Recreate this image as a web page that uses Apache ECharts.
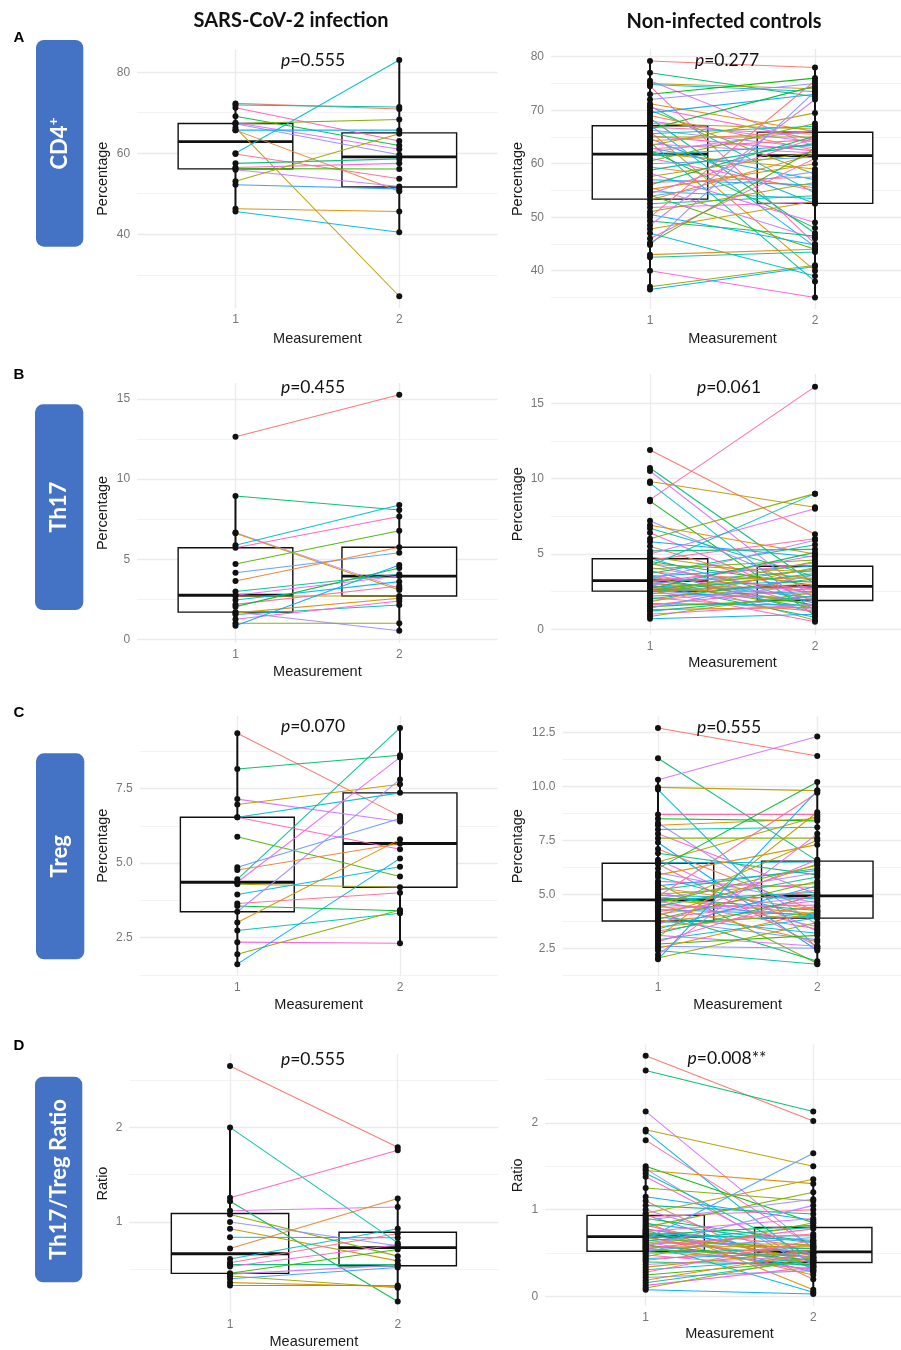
<!DOCTYPE html>
<html>
<head>
<meta charset="utf-8">
<title>CD4, Th17, Treg – paired measurements</title>
<script src="https://cdn.jsdelivr.net/npm/echarts@6.0.0/dist/echarts.min.js"></script>
<style>
  html, body { margin: 0; padding: 0; background: #fff; }
  #chart { width: 901px; height: 1350px; }
</style>
</head>
<body>
<div id="chart"></div>
<script>
// values; index k of a "First" array and its "Second" array is one subject
const measurements = [1, 2];
const measurementLabels = ['1', '2'];
const groupTitles = ['SARS-CoV-2 infection', 'Non-infected controls'];
const panelLetters = ['A', 'B', 'C', 'D'];
const markerLabels = ['CD4+', 'Th17', 'Treg', 'Th17/Treg Ratio'];
const yTitles = ['Percentage', 'Percentage', 'Percentage', 'Ratio'];
const pInfected = ['0.555', '0.455', '0.070', '0.555'];
const pControls = ['0.277', '0.061', '0.555', '0.008**'];

// A  CD4+ (%)
const cd4InfFirst  = [72.3, 71.9, 71.2, 69.1, 67.5, 67.3, 67.3, 66.3, 65.7, 65.7, 60.0, 59.8, 57.5, 56.5, 56.2, 55.9, 53.1, 52.2, 46.3, 45.6];
const cd4InfSecond = [70.9, 71.4, 63.0, 61.9, 61.0, 68.3, 59.6, 24.7, 65.7, 50.6, 83.0, 53.7, 58.6, 57.5, 56.1, 51.8, 64.8, 51.2, 45.6, 40.5];
const cd4CtlFirst = [79.2, 77.0, 75.5, 75.0, 74.8, 74.5, 73.0, 72.0, 71.2, 70.8, 70.5, 70.0, 69.5, 69.0, 68.5, 68.0, 67.5, 67.2,
  66.8, 66.5, 66.3, 66.0, 65.6, 65.2, 65.0, 64.7, 64.3, 64.0, 63.7, 63.4, 63.0, 62.8, 62.5, 62.2, 62.0,
  61.6, 61.0, 60.5, 60.0, 59.4, 58.8, 58.2, 57.6, 57.0, 56.5, 56.0, 55.6, 55.2, 54.8, 54.4, 54.1, 53.9,
  53.2, 52.5, 51.8, 51.0, 50.5, 50.0, 49.3, 48.5, 47.8, 47.0, 46.0, 45.2, 44.8, 43.0, 42.5, 40.0, 37.0, 36.5];
const cd4CtlSecond = [78.0, 72.5, 63.2, 74.0, 73.5, 45.0, 76.0, 75.0, 66.0, 54.5, 64.5, 58.0, 73.0, 62.5, 47.0, 64.0, 66.5, 44.5,
  65.5, 74.5, 63.0, 40.0, 67.0, 62.4, 65.0, 52.5, 66.0, 38.0, 62.0, 69.5, 57.0, 64.5, 48.0, 66.3, 59.0,
  63.5, 55.0, 67.5, 61.2, 55.5, 63.8, 49.0, 62.2, 56.0, 57.5, 65.2, 46.0, 60.0, 53.5, 64.8, 44.0, 58.5,
  61.8, 54.0, 52.8, 56.5, 44.8, 75.5, 46.5, 72.0, 53.0, 39.0, 61.0, 62.8, 73.5, 44.0, 43.5, 35.0, 41.0, 40.8];

// B  Th17 (%)
const th17InfFirst  = [12.65, 8.95, 6.66, 6.62, 5.87, 5.72, 4.70, 4.16, 3.64, 2.98, 2.75, 2.70, 2.46, 2.18, 2.04, 1.70, 1.65, 1.55, 1.25, 1.0, 0.85];
const th17InfSecond = [15.27, 8.07, 3.18, 3.08, 8.39, 7.66, 6.78, 5.41, 5.75, 4.06, 3.95, 2.70, 3.6, 3.33, 4.45, 0.54, 2.56, 2.14, 2.39, 1.0, 4.64];
const th17CtlFirst = [11.9, 10.7, 10.5, 9.8, 9.7, 8.6, 8.5, 7.2, 6.9, 6.7, 6.4, 6.0, 5.8, 5.5, 5.2, 5.0, 4.8,
  4.7, 4.6, 4.5, 4.4, 4.3, 4.2, 4.1, 4.0, 3.9, 3.8, 3.7, 3.6, 3.55, 3.5, 3.45, 3.4, 3.3, 3.25,
  3.2, 3.15, 3.1, 3.05, 3.0, 2.95, 2.9, 2.85, 2.8, 2.75, 2.7, 2.68, 2.65, 2.62, 2.6, 2.57, 2.55, 2.52,
  2.45, 2.4, 2.3, 2.2, 2.1, 2.0, 1.9, 1.8, 1.7, 1.6, 1.5, 1.4, 1.3, 1.2, 1.0, 0.85, 0.7];
const th17CtlSecond = [6.3, 3.0, 2.0, 8.1, 1.2, 16.1, 0.9, 2.5, 5.0, 3.5, 1.8, 9.0, 4.8, 2.2, 5.3, 8.0, 3.3,
  1.7, 6.0, 2.9, 1.5, 3.8, 9.0, 2.4, 4.6, 1.1, 3.1, 5.6, 2.0, 0.6, 4.2, 2.7, 1.6, 5.9, 3.4,
  2.1, 4.4, 1.4, 3.9, 2.6, 0.8, 4.9, 1.9, 3.2, 2.3, 5.1, 1.3, 3.6, 2.8, 0.5, 4.0, 1.92, 3.0,
  3.7, 1.95, 4.5, 2.5, 1.2, 3.35, 2.9, 4.1, 1.6, 2.75, 2.0, 3.6, 1.45, 2.2, 1.65, 2.45, 1.0];

// C  Treg (%)
const tregInfFirst  = [9.36, 8.16, 7.15, 6.97, 6.54, 6.54, 5.89, 4.86, 4.77, 4.46, 4.36, 4.29, 3.95, 3.65, 3.56, 3.37, 3.01, 2.74, 2.35, 1.94, 1.61];
const tregInfSecond = [6.58, 8.62, 6.40, 7.65, 7.36, 5.47, 4.55, 6.50, 5.66, 9.54, 8.55, 4.19, 4.88, 4.01, 3.40, 7.81, 5.80, 3.32, 2.31, 3.43, 5.16];
const tregCtlFirst = [12.7, 11.3, 10.3, 9.95, 9.85, 8.7, 8.5, 8.3, 8.2, 8.0, 7.8, 7.6, 7.4, 7.1, 6.9, 6.6, 6.5,
  6.45, 6.4, 6.2, 6.0, 5.9, 5.8, 5.6, 5.5, 5.4, 5.3, 5.2, 5.1, 5.0, 4.95, 4.9, 4.85, 4.8, 4.76,
  4.72, 4.68, 4.6, 4.55, 4.5, 4.45, 4.4, 4.35, 4.3, 4.2, 4.15, 4.1, 4.0, 3.95, 3.9, 3.85, 3.8, 3.75,
  3.7, 3.6, 3.5, 3.4, 3.3, 3.2, 3.1, 3.0, 2.9, 2.8, 2.7, 2.6, 2.5, 2.4, 2.2, 2.05, 1.99];
const tregCtlSecond = [11.4, 6.55, 12.3, 9.8, 2.5, 8.7, 8.4, 3.6, 8.5, 8.1, 5.0, 7.6, 2.4, 4.2, 5.9, 3.3, 8.6,
  6.5, 2.6, 10.2, 4.6, 7.3, 3.9, 5.3, 1.8, 6.1, 4.3, 6.2, 3.5, 5.5, 4.8, 9.7, 4.25, 6.0, 4.1,
  5.1, 3.4, 6.35, 4.0, 2.8, 5.8, 4.5, 7.5, 4.05, 5.2, 1.9, 4.9, 6.4, 3.2, 4.7, 5.6, 2.9, 4.4,
  4.0, 6.6, 4.15, 5.4, 4.45, 4.95, 2.6, 8.8, 3.9, 5.0, 3.1, 2.5, 4.2, 1.76, 7.8, 3.7, 9.8];

// D  Th17/Treg ratio
const ratioInfFirst  = [2.65, 2.0, 1.256, 1.22, 1.12, 1.08, 1.0, 0.93, 0.84, 0.72, 0.61, 0.57, 0.55, 0.53, 0.46, 0.45, 0.43, 0.40, 0.36, 0.33];
const ratioInfSecond = [1.79, 0.78, 1.76, 0.16, 1.16, 0.64, 0.75, 0.59, 0.835, 1.25, 0.93, 0.88, 0.55, 0.76, 0.71, 0.545, 0.305, 0.52, 0.32, 0.33];
const ratioCtlFirst = [2.77, 2.6, 2.13, 1.92, 1.9, 1.8, 1.5, 1.47, 1.45, 1.42, 1.38, 1.25, 1.15, 1.1, 1.05, 1.0, 0.96,
  0.94, 0.92, 0.9, 0.88, 0.86, 0.84, 0.82, 0.8, 0.78, 0.77, 0.76, 0.75, 0.74, 0.73, 0.72, 0.71, 0.70, 0.695,
  0.685, 0.68, 0.67, 0.66, 0.65, 0.64, 0.63, 0.62, 0.61, 0.6, 0.59, 0.58, 0.57, 0.56, 0.55, 0.54, 0.53, 0.52,
  0.5, 0.48, 0.46, 0.44, 0.42, 0.4, 0.37, 0.34, 0.31, 0.28, 0.25, 0.22, 0.19, 0.16, 0.13, 0.1, 0.08];
const ratioCtlSecond = [2.02, 2.13, 0.55, 1.5, 0.35, 0.57, 0.85, 0.3, 1.3, 0.45, 0.38, 1.1, 0.88, 0.2, 0.95, 0.42, 1.35,
  0.33, 1.0, 0.63, 1.12, 0.08, 0.62, 0.4, 1.2, 0.48, 0.58, 0.28, 0.9, 0.44, 0.65, 0.36, 0.82, 0.5, 0.25,
  0.7, 0.39, 0.55, 1.65, 0.45, 0.8, 0.3, 0.6, 0.05, 0.72, 0.42, 1.05, 0.58, 0.35, 0.78, 0.46, 0.68, 0.4,
  0.56, 0.32, 0.85, 0.5, 0.6, 0.37, 0.47, 0.53, 0.44, 0.65, 0.41, 0.3, 0.5, 0.42, 0.34, 0.45, 0.03];

// axis tick values (labelled) and minor grid values
const cd4InfTicks = [40, 60, 80],            cd4InfMinor = [30, 50, 70];
const cd4CtlTicks = [40, 50, 60, 70, 80],    cd4CtlMinor = [35, 45, 55, 65, 75];
const th17Ticks = [0, 5, 10, 15],            th17Minor = [2.5, 7.5, 12.5];
const tregInfTicks = [2.5, 5, 7.5],          tregInfMinor = [1.25, 3.75, 6.25, 8.75];
const tregCtlTicks = [2.5, 5, 7.5, 10, 12.5], tregCtlMinor = [1.25, 3.75, 6.25, 8.75, 11.25];
const ratioInfTicks = [1, 2],                ratioInfMinor = [0.5, 1.5, 2.5];
const ratioCtlTicks = [0, 1, 2],             ratioCtlMinor = [0.5, 1.5, 2.5];

const panels = [
  {first: cd4InfFirst, second: cd4InfSecond, ticks: cd4InfTicks, minor: cd4InfMinor, digits: 0, p: pInfected[0], yTitle: yTitles[0]},
  {first: cd4CtlFirst, second: cd4CtlSecond, ticks: cd4CtlTicks, minor: cd4CtlMinor, digits: 0, p: pControls[0], yTitle: yTitles[0]},
  {first: th17InfFirst, second: th17InfSecond, ticks: th17Ticks, minor: th17Minor, digits: 0, p: pInfected[1], yTitle: yTitles[1]},
  {first: th17CtlFirst, second: th17CtlSecond, ticks: th17Ticks, minor: th17Minor, digits: 0, p: pControls[1], yTitle: yTitles[1]},
  {first: tregInfFirst, second: tregInfSecond, ticks: tregInfTicks, minor: tregInfMinor, digits: 1, p: pInfected[2], yTitle: yTitles[2]},
  {first: tregCtlFirst, second: tregCtlSecond, ticks: tregCtlTicks, minor: tregCtlMinor, digits: 1, p: pControls[2], yTitle: yTitles[2]},
  {first: ratioInfFirst, second: ratioInfSecond, ticks: ratioInfTicks, minor: ratioInfMinor, digits: 0, p: pInfected[3], yTitle: yTitles[3]},
  {first: ratioCtlFirst, second: ratioCtlSecond, ticks: ratioCtlTicks, minor: ratioCtlMinor, digits: 0, p: pControls[3], yTitle: yTitles[3]}
];

// plot frames in pixels; step = pixels between measurement 1 and 2.
// The x scale starts at 0.4 (ggplot's discrete expansion); right-hand panels are cut at the page edge.
const pageWidth = 901;
const frames = [
  {left: 137.2, step: 163.8, top: 49.5, height: 258.5, min: 21.8, max: 85.6, yGap: 27, xGap: 23, px: 313, py: 60},
  {left: 551, step: 165, top: 49, height: 260, min: 32.84, max: 81.44, yGap: 26, xGap: 22, px: 727, py: 60},
  {left: 137.2, step: 163.8, top: 383, height: 260, min: -0.23, max: 16.0, yGap: 27, xGap: 21, px: 313, py: 387},
  {left: 551, step: 165, top: 374, height: 260.5, min: -0.35, max: 16.94, yGap: 26, xGap: 21, px: 729, py: 387},
  {left: 139.7, step: 162.7, top: 716, height: 259.5, min: 1.23, max: 9.94, yGap: 29, xGap: 21.5, px: 313, py: 726},
  {left: 562.4, step: 159.3, top: 716.5, height: 259.5, min: 1.22, max: 13.23, yGap: 37, xGap: 21, px: 729, py: 727},
  {left: 129.4, step: 167.7, top: 1054, height: 260, min: 0.039, max: 2.776, yGap: 19, xGap: 21, px: 313, py: 1059},
  {left: 545.1, step: 167.6, top: 1044.5, height: 261.5, min: -0.107, max: 2.90, yGap: 20, xGap: 20, px: 727, py: 1058}
];
const labelBoxes = [
  {x: 36, y: 40, w: 47.3, h: 206.7},
  {x: 35, y: 404.3, w: 48.3, h: 205.7},
  {x: 36, y: 753.3, w: 48.3, h: 206},
  {x: 35, y: 1076.7, w: 47.3, h: 205.6}
];
const letterPos = [[19, 38], [19, 375], [19, 712.5], [19, 1046]];
const titlePos = [[291, 20.5], [724, 21.5]];

// ggplot-like hue palette (hcl, c=100, l=65)
function hueColor(h) {
  const L = 65, C = 100, hr = h * Math.PI / 180;
  const Y = Math.pow((L + 16) / 116, 3);
  const up = C * Math.cos(hr) / (13 * L) + 0.19784;
  const vp = C * Math.sin(hr) / (13 * L) + 0.46834;
  const X = Y * 9 * up / (4 * vp), Z = Y * (12 - 3 * up - 20 * vp) / (4 * vp);
  const lin = [3.2406 * X - 1.5372 * Y - 0.4986 * Z, -0.9689 * X + 1.8758 * Y + 0.0415 * Z, 0.0557 * X - 0.2040 * Y + 1.0570 * Z];
  const rgb = lin.map(c => {
    c = Math.max(0, Math.min(1, c));
    const g = c <= 0.0031308 ? 12.92 * c : 1.055 * Math.pow(c, 1 / 2.4) - 0.055;
    return Math.round(g * 255);
  });
  return 'rgb(' + rgb.join(',') + ')';
}
function gcd(a, b) { return b ? gcd(b, a % b) : a; }
function palette(n) {
  let step = Math.round(n / 3) + 1;
  while (gcd(step, n) !== 1) step++;
  const out = [];
  for (let k = 0; k < n; k++) out.push(hueColor(15 + 360 * ((k * step) % n) / n));
  return out;
}

// box statistics as in geom_boxplot (type 7 quantiles, 1.5 IQR whiskers)
function quant(s, p) {
  const h = (s.length - 1) * p, lo = Math.floor(h);
  return lo + 1 < s.length ? s[lo] + (h - lo) * (s[lo + 1] - s[lo]) : s[lo];
}
function boxStats(vals) {
  const s = vals.slice().sort((a, b) => a - b);
  const q1 = quant(s, 0.25), med = quant(s, 0.5), q3 = quant(s, 0.75), iqr = q3 - q1;
  const inside = s.filter(v => v >= q1 - 1.5 * iqr && v <= q3 + 1.5 * iqr);
  return [inside[0], q1, med, q3, inside[inside.length - 1]];
}

const axisFont = 'Liberation Sans';
const calibriLike = 'Lato';
const grids = [], xAxes = [], yAxes = [], series = [], graphics = [];

panels.forEach((p, i) => {
  const f = frames[i];
  const fullWidth = 2.2 * f.step;
  const width = Math.min(fullWidth, pageWidth - f.left);
  const xMax = 0.4 + width / f.step;
  // keep the axis title centred on the full (uncut) panel
  const nameShift = 2 * (fullWidth - width) / 2;
  const colors = palette(p.first.length);
  grids.push({left: f.left, top: f.top, width: width, height: f.height});
  xAxes.push({
    type: 'value', gridIndex: i, min: 0.4, max: xMax,
    name: 'Measurement', nameLocation: 'middle', nameGap: f.xGap,
    nameTextStyle: {color: '#1a1a1a', fontSize: 14.5, fontFamily: axisFont, padding: [0, 0, 0, nameShift]},
    axisLine: {show: false},
    axisTick: {show: false, customValues: measurements},
    axisLabel: {customValues: measurements, formatter: v => measurementLabels[Math.round(v) - 1], margin: 6, color: '#777', fontSize: 12, fontFamily: axisFont},
    splitLine: {show: true, lineStyle: {color: '#ebebeb', width: 1.4}}
  });
  yAxes.push({
    type: 'value', gridIndex: i, min: f.min, max: f.max,
    name: p.yTitle, nameLocation: 'middle', nameGap: f.yGap,
    nameTextStyle: {color: '#1a1a1a', fontSize: 14.5, fontFamily: axisFont},
    axisLine: {show: false},
    axisTick: {show: false, customValues: p.ticks},
    axisLabel: {customValues: p.ticks, formatter: v => v.toFixed(p.digits), margin: 7, color: '#777', fontSize: 12, fontFamily: axisFont},
    splitLine: {show: true, lineStyle: {color: '#ebebeb', width: 1.4}}
  });
  yAxes.push({
    type: 'value', gridIndex: i, min: f.min, max: f.max,
    axisLine: {show: false},
    axisTick: {show: false, customValues: p.minor},
    axisLabel: {show: false},
    splitLine: {show: true, lineStyle: {color: '#f2f2f2', width: 0.9}}
  });
  const yIdx = 2 * i;

  // boxes
  series.push({
    type: 'custom', xAxisIndex: i, yAxisIndex: yIdx, z: 2, silent: true,
    data: [[1].concat(boxStats(p.first)), [2].concat(boxStats(p.second))],
    encode: {x: 0, y: [1, 2, 3, 4, 5]},
    renderItem: (params, api) => {
      const x = api.value(0);
      const lo = api.coord([x, api.value(1)]), q1 = api.coord([x, api.value(2)]);
      const md = api.coord([x, api.value(3)]), q3 = api.coord([x, api.value(4)]);
      const hi = api.coord([x, api.value(5)]);
      const half = api.size([0.35, 0])[0];
      return {type: 'group', children: [
        {type: 'line', shape: {x1: lo[0], y1: lo[1], x2: q1[0], y2: q1[1]}, style: {stroke: '#111', lineWidth: 2}},
        {type: 'line', shape: {x1: q3[0], y1: q3[1], x2: hi[0], y2: hi[1]}, style: {stroke: '#111', lineWidth: 2}},
        {type: 'rect', shape: {x: md[0] - half, y: q3[1], width: 2 * half, height: q1[1] - q3[1]}, style: {fill: '#fff', stroke: '#111', lineWidth: 1.4}},
        {type: 'line', shape: {x1: md[0] - half, y1: md[1], x2: md[0] + half, y2: md[1]}, style: {stroke: '#111', lineWidth: 2.8}}
      ]};
    }
  });

  // paired lines, one colour per subject
  series.push({
    type: 'custom', xAxisIndex: i, yAxisIndex: yIdx, z: 3, silent: true,
    data: p.first.map((v, k) => [measurements[0], v, measurements[1], p.second[k], k]),
    encode: {x: [0, 2], y: [1, 3]},
    renderItem: (params, api) => {
      const a = api.coord([api.value(0), api.value(1)]);
      const b = api.coord([api.value(2), api.value(3)]);
      return {type: 'line', shape: {x1: a[0], y1: a[1], x2: b[0], y2: b[1]},
        style: {stroke: colors[api.value(4)], lineWidth: 1.05, opacity: 0.95}};
    }
  });

  // points
  series.push({
    type: 'scatter', xAxisIndex: i, yAxisIndex: yIdx, z: 4, silent: true,
    symbolSize: 6,
    itemStyle: {color: '#111', opacity: 1},
    data: p.first.map(v => [measurements[0], v]).concat(p.second.map(v => [measurements[1], v]))
  });

  // p-value annotation
  graphics.push({
    type: 'text', x: f.px, y: f.py, z: 100,
    style: {
      text: '{i|p}{n|=' + p.p + '}', align: 'center', verticalAlign: 'middle',
      rich: {
        i: {fontStyle: 'italic', fontSize: 17.5, fontFamily: calibriLike, fill: '#111'},
        n: {fontSize: 17.5, fontFamily: calibriLike, fill: '#111'}
      }
    }
  });
});

groupTitles.forEach((t, c) => {
  graphics.push({type: 'text', x: titlePos[c][0], y: titlePos[c][1],
    style: {text: t, align: 'center', verticalAlign: 'middle', fill: '#111', fontSize: 20, fontWeight: 'bold', fontFamily: calibriLike}});
});

markerLabels.forEach((m, r) => {
  const b = labelBoxes[r];
  graphics.push({type: 'rect', shape: {x: b.x, y: b.y, width: b.w, height: b.h, r: 8}, style: {fill: '#4472c4'}});
  const sup = m.endsWith('+');
  const text = sup ? '{b|' + m.slice(0, -1) + '}{s|+}' : '{b|' + m + '}';
  graphics.push({
    type: 'text', x: b.x + b.w / 2, y: b.y + b.h / 2, rotation: Math.PI / 2, z: 101,
    style: {
      text: text, align: 'center', verticalAlign: 'middle',
      rich: {
        b: {fontSize: 22, fontWeight: 'bold', fontFamily: calibriLike, fill: '#fff', lineHeight: 26},
        s: {fontSize: 14, fontWeight: 'bold', fontFamily: calibriLike, fill: '#fff', verticalAlign: 'top', lineHeight: 26, padding: [0, 0, 10, 0]}
      }
    }
  });
  graphics.push({type: 'text', x: letterPos[r][0], y: letterPos[r][1],
    style: {text: panelLetters[r], align: 'center', verticalAlign: 'middle', fill: '#000', fontSize: 15, fontWeight: 'bold', fontFamily: axisFont}});
});

const chart = echarts.init(document.getElementById('chart'), null, {renderer: 'canvas'});
chart.setOption({
  animation: false,
  backgroundColor: '#fff',
  textStyle: {fontFamily: axisFont},
  grid: grids,
  xAxis: xAxes,
  yAxis: yAxes,
  series: series,
  graphic: graphics
});
window.addEventListener('resize', () => chart.resize());
</script>
</body>
</html>
